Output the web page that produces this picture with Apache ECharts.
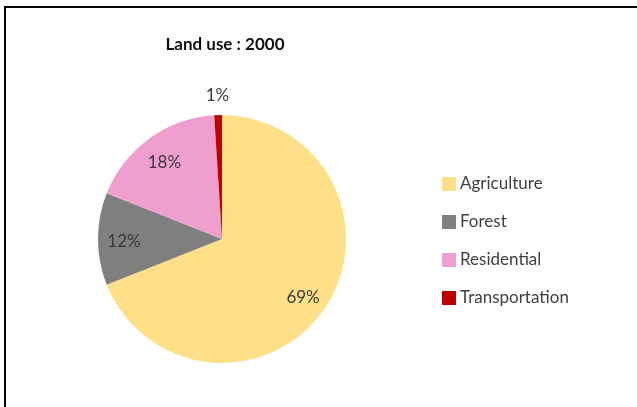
<!DOCTYPE html>
<html>
<head>
<meta charset="utf-8">
<script src="https://cdn.jsdelivr.net/npm/echarts@6/dist/echarts.min.js"></script>
<style>
html,body{margin:0;padding:0;background:#fff;}
#chart{width:637px;height:407px;}
</style>
</head>
<body>
<div id="chart"></div>
<script>
const categories = ['Agriculture', 'Forest', 'Residential', 'Transportation'];
const values = [69, 12, 18, 1];
const colors = ['#FFDF88', '#7F7F7F', '#EF9FCE', '#C00000'];
const titleText = 'Land use : 2000';

const chart = echarts.init(document.getElementById('chart'), null, {renderer: 'canvas'});

const data = categories.map((c, i) => ({name: c, value: values[i], itemStyle: {color: colors[i]}}));
const innerLabelData = categories.map((c, i) => ({
  name: c, value: values[i],
  label: {show: i < 3}
}));
const outerLabelData = categories.map((c, i) => ({
  name: c, value: values[i],
  label: {show: i === 3}
}));

const center = [222, 239];
const R = 124;
const labelStyle = {
  fontFamily: 'Lato', fontSize: 17, color: '#3a3a3a',
  offset: [0, 3],
  formatter: p => p.value + '%'
};

chart.setOption({
  animation: false,
  backgroundColor: '#fff',
  title: {
    text: titleText,
    left: 220, top: 31, textAlign: 'center',
    textStyle: {fontFamily: 'Lato', fontWeight: 'bold', fontSize: 17, color: '#111'}
  },
  legend: {
    orient: 'vertical',
    left: 437, top: 169,
    itemWidth: 14, itemHeight: 14, itemGap: 18,
    icon: 'rect',
    data: categories,
    textStyle: {fontFamily: 'Lato', fontSize: 17, color: '#404040', lineHeight: 20, padding: [0, 0, 0, -1]}
  },
  graphic: [{
    type: 'polyline',
    shape: {points: [[5, 407], [5, 7], [637, 7]]},
    style: {stroke: '#000', lineWidth: 2, fill: null},
    silent: true
  }],
  series: [
    {
      type: 'pie', name: 'Land use',
      center: center, radius: [0, R],
      startAngle: 90, clockwise: true,
      data: data,
      label: {show: false},
      labelLine: {show: false},
      emphasis: {disabled: true}
    },
    {
      type: 'pie', name: 'labels-inner',
      center: center, radius: [0, 190],
      startAngle: 90, clockwise: true,
      silent: true, legendHoverLink: false,
      data: innerLabelData,
      itemStyle: {color: 'rgba(0,0,0,0)'},
      label: Object.assign({position: 'inside'}, labelStyle),
      labelLine: {show: false},
      avoidLabelOverlap: false,
      emphasis: {disabled: true}
    },
    {
      type: 'pie', name: 'labels-outer',
      center: center, radius: [0, 288],
      startAngle: 90, clockwise: true,
      silent: true, legendHoverLink: false,
      data: outerLabelData,
      itemStyle: {color: 'rgba(0,0,0,0)'},
      label: Object.assign({position: 'inside'}, labelStyle),
      labelLine: {show: false},
      avoidLabelOverlap: false,
      emphasis: {disabled: true}
    }
  ]
});
</script>
</body>
</html>
